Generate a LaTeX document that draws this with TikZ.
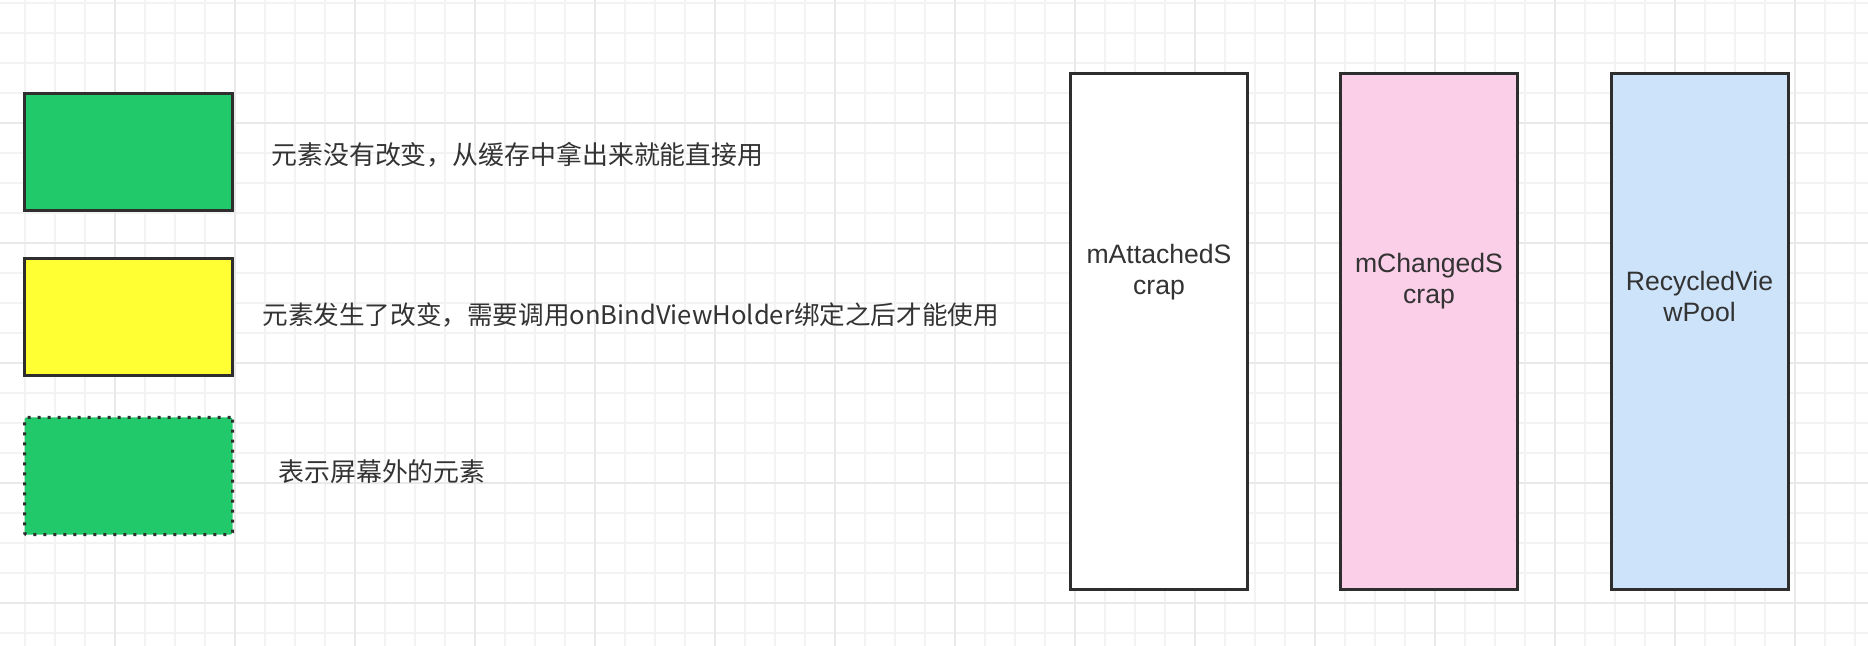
\documentclass[tikz,border=0pt]{standalone}
\usepackage{fontspec}
\setmainfont{Liberation Sans}
\newfontfamily\cjk{Noto Sans CJK SC}
\definecolor{gminor}{HTML}{F3F3F3}
\definecolor{gmajor}{HTML}{E9E9E9}
\definecolor{boxline}{HTML}{2E2E2E}
\definecolor{txt}{HTML}{333333}
\definecolor{legreen}{HTML}{22C96A}
\definecolor{leyellow}{HTML}{FFFF33}
\definecolor{lepink}{HTML}{FBCFE8}
\definecolor{leblue}{HTML}{CCE3FA}
\tikzset{
  minorline/.style={gminor, line width=0.8pt},
  majorline/.style={gmajor, line width=0.9pt},
  legbox/.style={draw=boxline, line width=1.5pt, minimum width=104pt, minimum height=58.5pt, inner sep=0pt},
  dotbox/.style={legbox, dash pattern=on 1.5pt off 3.5pt, rounded corners=1pt},
  tallbox/.style={draw=boxline, line width=1.5pt, minimum width=88.5pt, minimum height=258pt, inner sep=0pt},
  legtext/.style={anchor=west, inner sep=0pt, text=txt, font=\cjk\fontsize{12.95pt}{16pt}\selectfont},
  boxtext/.style={inner sep=0pt, text=txt, align=center, font=\fontsize{13.3pt}{15.5pt}\selectfont}
}
\begin{document}
\begin{tikzpicture}[x=0.5pt,y=-0.5pt]
\fill[white] (0,0) rectangle (1868,646);
\useasboundingbox (0,0) rectangle (1868,646);
% grid
\foreach \xx in {25,55,...,1865} \draw[minorline] (\xx,0) -- (\xx,646);
\foreach \yy in {3,33,...,633} \draw[minorline] (0,\yy) -- (1868,\yy);
\foreach \xx in {115,235,...,1835} \draw[majorline] (\xx,0) -- (\xx,646);
\foreach \yy in {123,243,...,603} \draw[majorline] (0,\yy) -- (1868,\yy);
% legend
\node[legbox, fill=legreen] (g1) at (128.5,152) {};
\node[legbox, fill=leyellow] (y1) at (128.5,317.5) {};
\node[dotbox, fill=legreen] (g2) at (128.5,476) {};
\node[legtext] (t1) at (271,155) {元素没有改变，从缓存中拿出来就能直接用};
\node[legtext, font=\cjk\fontsize{12.8pt}{16pt}\selectfont] (t2) at (262,315) {元素发生了改变，需要调用onBindViewHolder绑定之后才能使用};
\node[legtext] (t3) at (278,472) {表示屏幕外的元素};
% tall boxes
\node[tallbox, fill=white] (att) at (1159,331.5) {};
\node[tallbox, fill=lepink] (chg) at (1429,331.5) {};
\node[tallbox, fill=leblue] (pool) at (1699.5,331.5) {};
\node[boxtext] (attl) at (1159,272) {mAttachedS\\crap};
\node[boxtext] (chgl) at (1429,281) {mChangedS\\crap};
\node[boxtext] (pooll) at (1699.5,296) {RecycledVie\\wPool};
\end{tikzpicture}
\end{document}
